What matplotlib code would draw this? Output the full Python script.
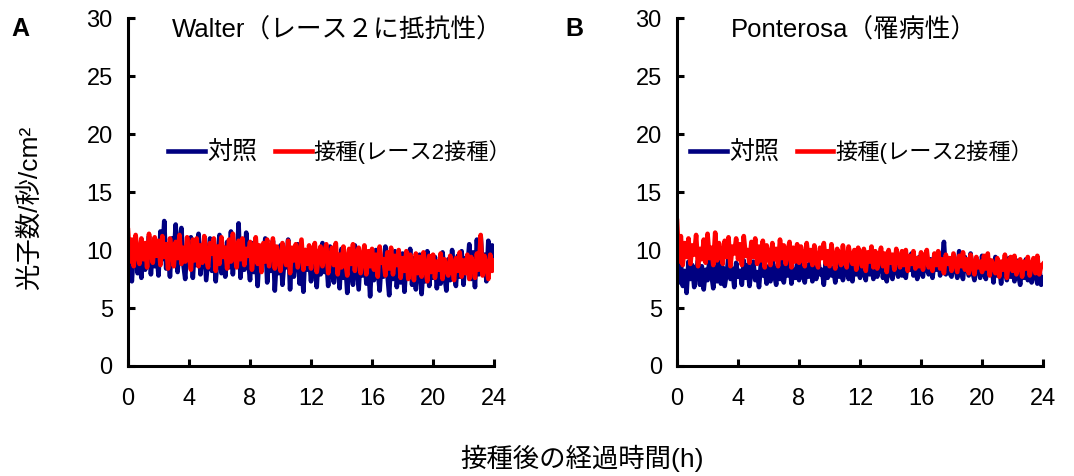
import matplotlib
matplotlib.use("Agg")
import matplotlib.pyplot as plt
import numpy as np

plt.rcParams['font.family'] = ['Liberation Sans', 'Noto Sans CJK JP']

# time axis, every 7.5 min over 24 h
hours = np.arange(0, 24.001, 0.125)

# Walter (A) - control (blue)
walter_ctrl = [
    8.2, 10.8, 7.3, 9.9, 11.0, 8.0, 9.4, 7.6,
    10.5, 8.3, 9.0, 11.2, 7.9, 10.1, 8.6, 9.7,
    7.8, 11.6, 9.2, 12.5, 8.4, 10.2, 7.7, 11.0,
    9.3, 12.2, 8.1, 10.6, 11.9, 8.8, 7.5, 10.4,
    9.0, 11.1, 7.6, 10.3, 8.7, 11.4, 7.9, 9.6,
    10.8, 7.4, 9.2, 11.0, 8.2, 10.0, 7.3, 9.5,
    11.3, 8.0, 9.9, 7.7, 10.7, 8.5, 11.6, 7.9,
    10.2, 8.8, 12.3, 7.6, 10.0, 8.3, 11.5, 9.1,
    7.4, 10.6, 8.1, 9.8, 6.9, 10.2, 8.7, 9.3,
    11.0, 7.2, 9.6, 8.2, 10.8, 6.5, 9.4, 8.0,
    10.4, 7.0, 9.1, 8.5, 10.9, 6.6, 9.8, 7.7,
    9.2, 10.5, 7.1, 8.9, 6.4, 10.0, 8.3, 9.6,
    7.3, 10.2, 8.6, 6.8, 9.9, 7.9, 10.6, 8.1,
    9.4, 6.9, 10.3, 8.0, 7.2, 9.7, 8.8, 6.7,
    10.1, 7.6, 9.0, 6.3, 9.8, 8.2, 7.0, 10.4,
    8.5, 6.6, 9.6, 7.8, 10.2, 7.1, 8.9, 6.0,
    9.5, 7.4, 10.0, 8.3, 6.5, 9.2, 7.7, 10.3,
    8.0, 6.1, 9.4, 7.5, 9.9, 6.8, 8.7, 7.2,
    9.7, 6.4, 8.9, 7.9, 10.1, 7.0, 9.3, 6.6,
    8.4, 9.6, 6.2, 8.8, 7.3, 9.9, 6.9, 9.0,
    7.6, 9.4, 6.7, 8.6, 7.1, 9.8, 7.8, 6.5,
    9.2, 7.4, 10.0, 8.1, 6.9, 9.5, 7.7, 9.9,
    7.0, 9.3, 8.4, 10.5, 7.5, 9.8, 6.8, 10.9,
    7.9, 11.2, 8.6, 9.6, 7.3, 10.8, 8.2, 10.4,
    9.0]

# Walter (A) - inoculated (red)
walter_inoc = [
    11.7, 9.0, 10.9, 8.6, 11.3, 9.6, 8.8, 11.0,
    9.2, 10.6, 8.5, 11.4, 9.8, 8.9, 11.1, 9.5,
    10.8, 8.7, 11.2, 9.4, 10.5, 8.4, 11.0, 9.9,
    8.6, 10.7, 9.3, 11.3, 8.8, 10.2, 9.0, 11.1,
    9.5, 8.3, 10.9, 9.1, 11.0, 8.6, 10.4, 8.9,
    11.2, 9.3, 8.5, 10.6, 9.7, 11.0, 8.2, 10.3,
    8.8, 11.1, 9.4, 10.2, 8.4, 10.9, 9.0, 11.4,
    9.6, 8.5, 10.8, 9.2, 11.0, 8.7, 10.1, 9.5,
    10.7, 8.3, 9.9, 11.1, 8.8, 10.4, 8.1, 10.6,
    9.0, 10.9, 8.6, 9.8, 11.0, 8.4, 10.3, 9.2,
    8.2, 10.6, 9.4, 8.7, 10.8, 8.0, 10.2, 9.1,
    10.5, 8.5, 9.7, 10.9, 8.3, 10.0, 8.8, 10.4,
    8.4, 9.9, 10.6, 8.1, 9.5, 10.3, 8.6, 9.8,
    10.5, 8.0, 9.3, 10.2, 8.7, 10.6, 7.9, 9.6,
    8.5, 10.3, 9.0, 7.8, 10.1, 8.8, 10.5, 8.2,
    9.7, 10.2, 8.0, 9.4, 10.4, 7.9, 9.9, 8.6,
    10.1, 8.3, 9.6, 7.7, 10.3, 8.9, 9.2, 7.8,
    9.8, 8.4, 10.2, 7.9, 9.5, 8.7, 10.0, 7.6,
    9.3, 8.2, 9.9, 7.5, 9.6, 8.6, 7.4, 9.7,
    8.0, 9.4, 7.7, 9.8, 8.5, 7.3, 9.5, 8.1,
    9.6, 7.6, 9.0, 8.3, 9.7, 7.5, 9.2, 8.4,
    7.8, 9.5, 8.6, 7.4, 9.3, 8.2, 9.8, 7.7,
    9.1, 8.0, 9.6, 7.5, 9.4, 8.7, 7.6, 9.7,
    8.3, 11.3, 7.8, 9.5, 8.6, 7.5, 9.6, 8.2,
    9.1]

# Ponterosa (B) - control (blue)
ponte_ctrl = [
    8.5, 7.2, 8.9, 6.9, 8.2, 6.3, 9.0, 7.5,
    8.7, 6.8, 8.1, 9.1, 7.0, 8.6, 6.6, 8.3,
    7.4, 9.2, 7.9, 6.7, 8.8, 7.3, 9.0, 7.1,
    8.5, 6.9, 8.0, 9.3, 7.5, 8.4, 6.8, 8.9,
    7.7, 8.2, 7.0, 9.1, 7.6, 8.7, 6.9, 8.3,
    9.0, 7.4, 8.1, 6.8, 8.9, 7.8, 8.4, 7.1,
    8.6, 7.3, 9.2, 7.9, 7.0, 8.8, 7.5, 9.0,
    7.2, 8.5, 7.8, 9.3, 7.1, 8.3, 7.6, 8.9,
    7.4, 9.1, 8.0, 7.2, 8.7, 7.7, 9.4, 7.3,
    8.6, 7.5, 9.2, 7.9, 8.3, 7.0, 8.9, 7.6,
    9.3, 7.8, 8.4, 7.2, 9.0, 7.7, 8.6, 7.4,
    8.2, 9.4, 7.5, 8.8, 7.3, 9.1, 7.9, 8.5,
    7.6, 9.2, 8.1, 7.4, 9.5, 7.9, 8.7, 7.5,
    9.0, 7.7, 8.5, 9.6, 7.6, 8.8, 7.3, 9.2,
    8.0, 7.5, 9.3, 8.2, 7.7, 9.5, 7.8, 8.6,
    7.6, 9.1, 8.3, 9.7, 7.8, 8.7, 7.5, 9.4,
    8.1, 7.7, 9.6, 8.4, 7.9, 9.2, 7.6, 9.0,
    8.3, 9.8, 7.8, 8.9, 10.7, 7.9, 9.3, 8.0,
    7.7, 9.5, 8.5, 7.6, 9.9, 8.2, 7.5, 9.4,
    8.6, 7.8, 9.7, 8.1, 7.4, 9.3, 8.3, 7.6,
    9.5, 8.0, 7.5, 9.2, 7.9, 8.8, 7.2, 9.4,
    7.8, 8.6, 7.1, 9.0, 8.2, 7.4, 9.3, 7.7,
    8.5, 7.3, 9.1, 7.9, 7.0, 8.8, 7.6, 9.2,
    7.4, 8.7, 7.2, 9.0, 7.8, 7.1, 8.6, 7.0,
    7.6]

# Ponterosa (B) - inoculated (red)
ponte_inoc = [
    12.5, 9.0, 11.2, 8.7, 10.6, 9.4, 11.0, 8.8,
    10.4, 9.6, 11.3, 8.6, 10.1, 9.2, 10.9, 8.9,
    11.4, 9.3, 10.2, 8.7, 11.5, 9.1, 10.6, 9.8,
    8.8, 10.8, 9.4, 11.1, 8.6, 10.3, 9.7, 11.0,
    9.2, 10.5, 8.7, 11.2, 9.5, 10.0, 8.9, 10.7,
    9.4, 11.0, 8.8, 10.3, 9.1, 10.8, 8.5, 10.4,
    9.6, 8.7, 10.6, 9.2, 10.1, 8.6, 10.9, 9.3,
    10.4, 8.8, 9.9, 10.7, 8.5, 10.2, 9.0, 10.5,
    8.9, 10.3, 9.4, 8.6, 10.6, 9.1, 10.0, 8.7,
    10.4, 9.0, 8.5, 10.2, 9.3, 10.6, 8.8, 9.9,
    8.6, 10.5, 9.2, 8.4, 10.1, 9.6, 8.7, 10.4,
    9.1, 8.5, 10.3, 9.4, 8.8, 10.0, 8.3, 10.2,
    9.5, 8.6, 10.1, 8.2, 9.8, 9.0, 10.3, 8.5,
    9.9, 8.4, 9.4, 10.2, 8.6, 9.7, 8.1, 10.0,
    8.9, 9.6, 8.3, 10.1, 9.2, 8.5, 9.9, 8.7,
    10.0, 8.2, 9.5, 8.8, 9.9, 8.4, 9.3, 8.6,
    9.8, 8.3, 9.4, 10.0, 8.5, 9.1, 8.2, 9.7,
    8.7, 9.9, 8.4, 9.2, 8.0, 9.6, 8.8, 9.3,
    8.2, 9.7, 8.9, 8.1, 9.5, 8.6, 9.8, 8.3,
    9.2, 8.0, 9.6, 8.7, 7.9, 9.4, 8.5, 9.0,
    8.1, 9.5, 8.4, 9.7, 7.8, 9.1, 8.6, 8.0,
    9.3, 7.7, 9.0, 8.3, 9.6, 7.6, 8.9, 9.4,
    8.2, 9.5, 7.9, 8.8, 9.2, 7.7, 9.0, 8.4,
    9.4, 7.8, 8.7, 9.3, 8.0, 9.5, 7.9, 8.6,
    8.8]

titles = ["Walter（レース２に抵抗性）", "Ponterosa（罹病性）"]
labels = ["対照", "接種(レース2接種）"]
x_ticks = [0, 4, 8, 12, 16, 20, 24]
y_ticks = [0, 5, 10, 15, 20, 25, 30]

fig = plt.figure(figsize=(10.74, 4.76), dpi=100)
ax_a = fig.add_axes([0.1192, 0.2311, 0.3408, 0.731])
ax_b = fig.add_axes([0.6304, 0.2311, 0.3408, 0.731])

panels = [(ax_a, walter_ctrl, walter_inoc, titles[0], 0.12, 0.11),
          (ax_b, ponte_ctrl, ponte_inoc, titles[1], 0.148, 0.035)]

for ax, ctrl, inoc, title, tx, lx in panels:
    ax.plot(hours, ctrl, color='#000080', lw=3.3, label=labels[0])
    ax.plot(hours, inoc, color='#ff0000', lw=3.3, label=labels[1])
    ax.set_xlim(0, 24)
    ax.set_ylim(0, 30)
    ax.set_xticks(x_ticks)
    ax.set_yticks(y_ticks)
    ax.tick_params(direction='in', length=5, width=2.2, labelsize=17)
    ax.tick_params(axis='x', pad=16)
    ax.tick_params(axis='y', pad=11)
    for s in ['top', 'right']:
        ax.spines[s].set_visible(False)
    for s in ['left', 'bottom']:
        ax.spines[s].set_linewidth(2.2)
    ax.text(tx, 0.965, title, transform=ax.transAxes, fontsize=18.5, va='center')
    leg = ax.legend(loc='center left', bbox_to_anchor=(lx, 0.615), ncol=2, frameon=False,
                    fontsize=16, handlelength=1.65, handletextpad=0.1, columnspacing=0.8,
                    borderaxespad=0, borderpad=0)
    leg.get_texts()[0].set_fontsize(18)
    leg.get_texts()[1].set_fontsize(16)

fig.text(0.011, 0.94, "A", fontsize=18, fontweight='bold', va='center')
fig.text(0.526, 0.94, "B", fontsize=18, fontweight='bold', va='center')
fig.text(0.028, 0.563, "光子数/秒/cm²", rotation=90, fontsize=19, va='center', ha='center')
fig.text(0.542, 0.038, "接種後の経過時間(h)", fontsize=19, va='center', ha='center')

fig.savefig("out.png", dpi=100)
